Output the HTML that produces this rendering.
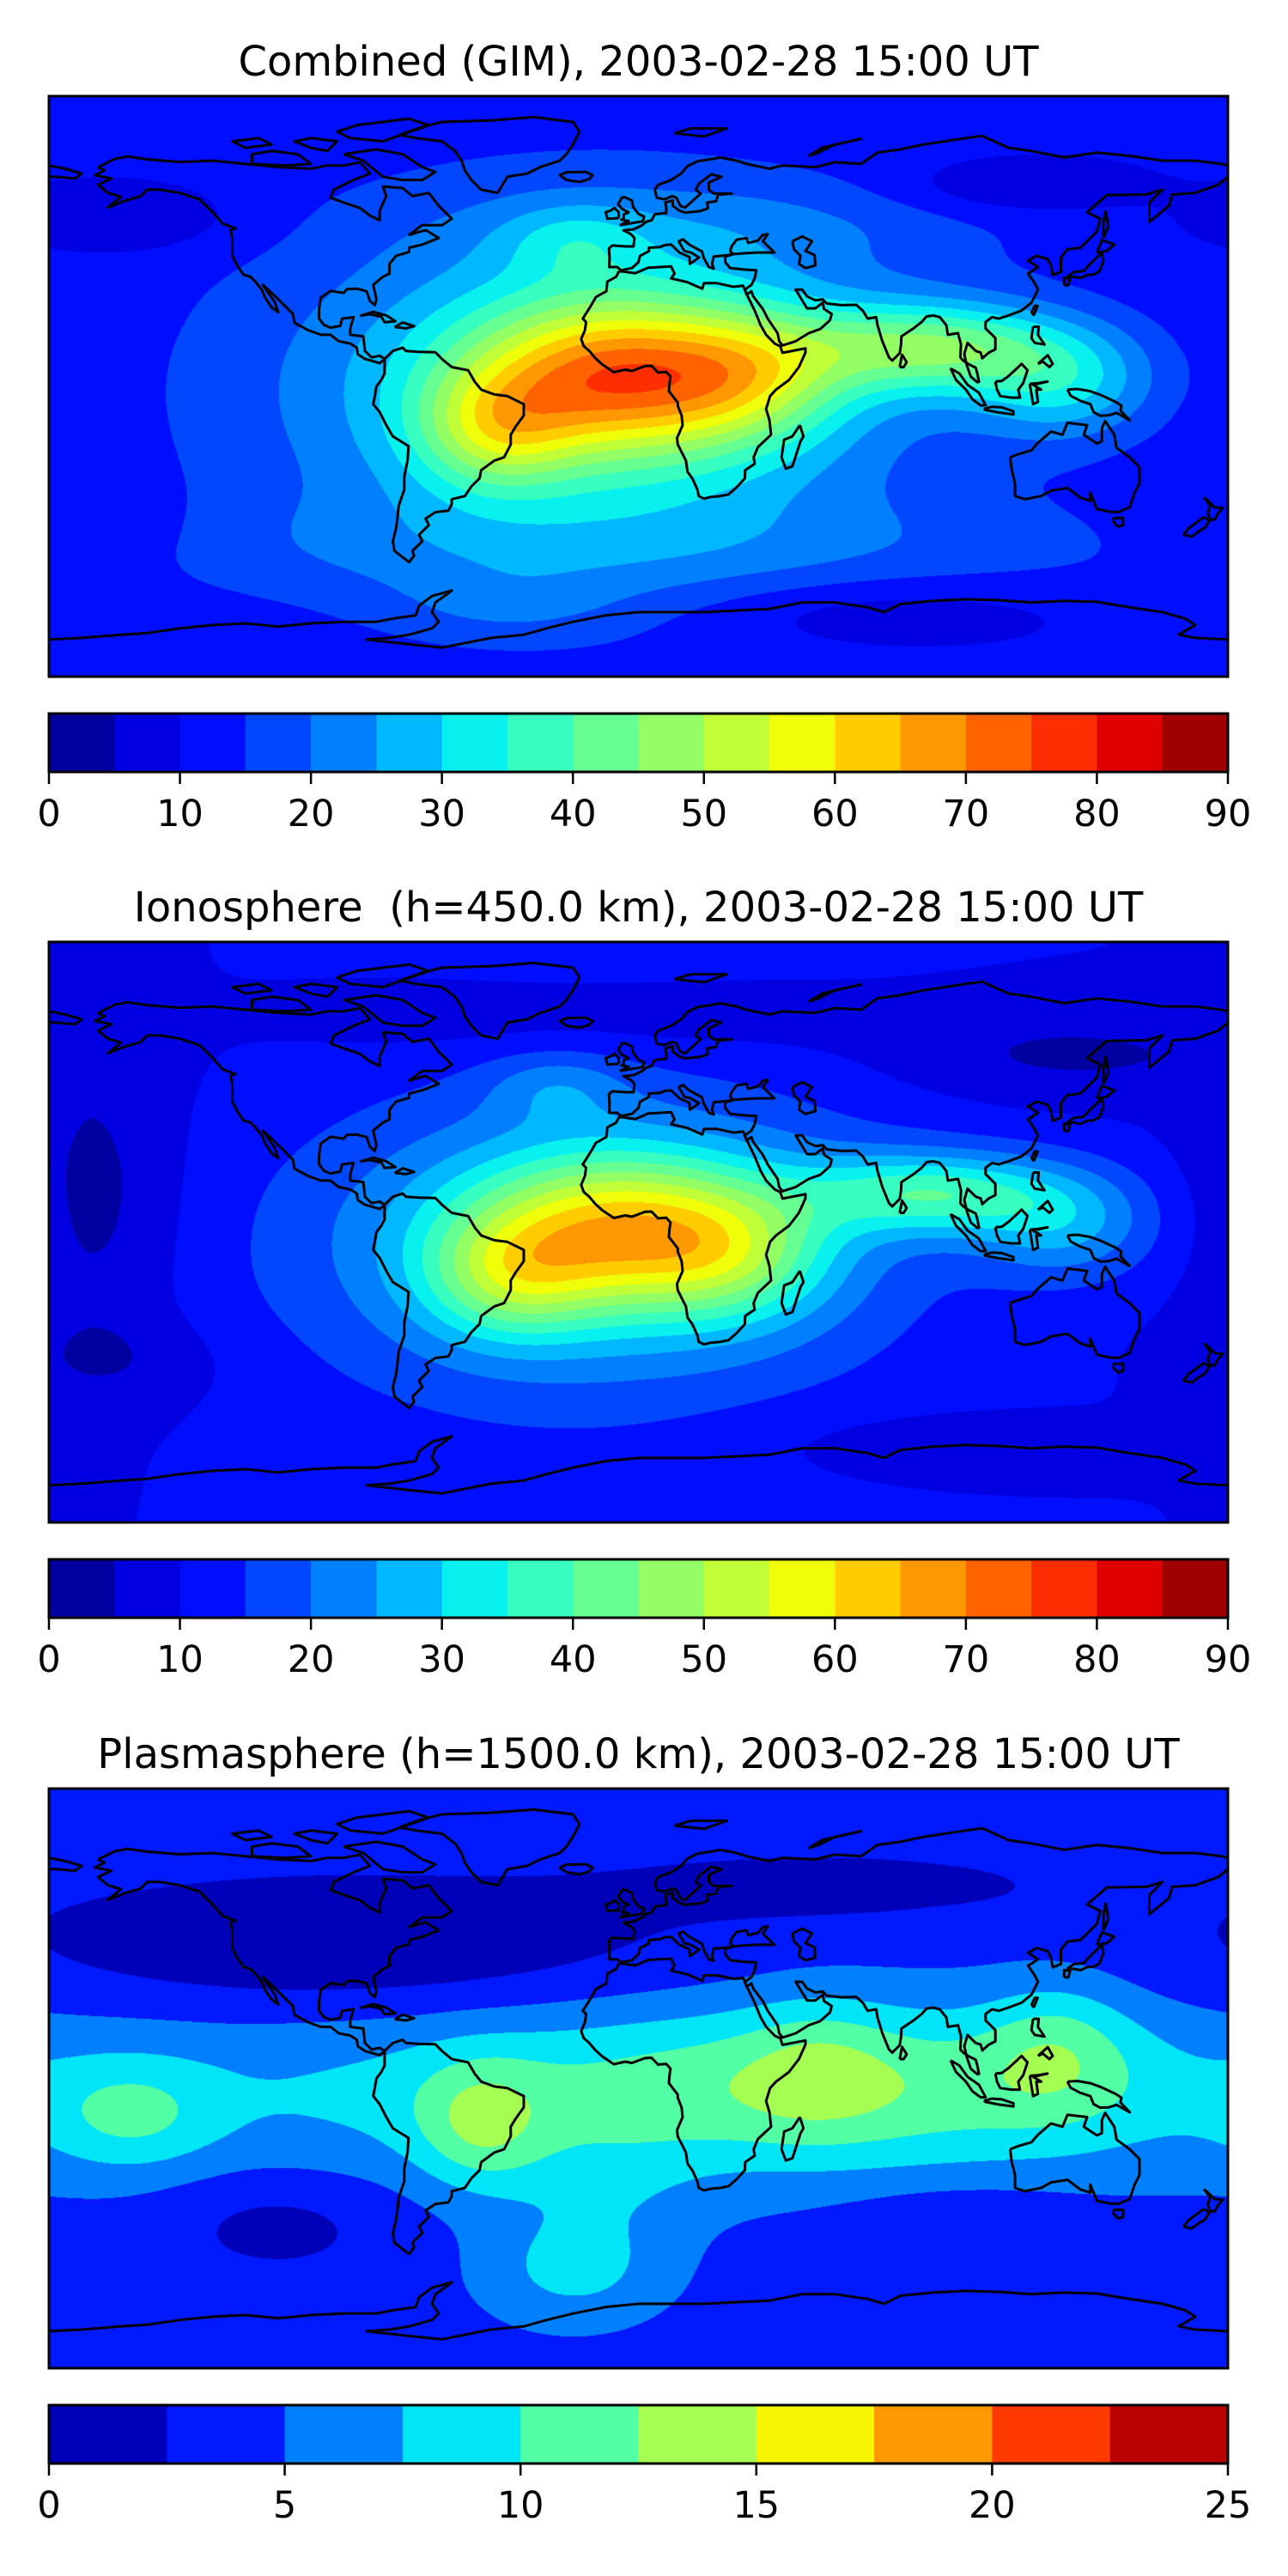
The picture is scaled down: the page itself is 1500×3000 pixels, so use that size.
<!DOCTYPE html>
<html><head><meta charset="utf-8">
<style>
html,body{margin:0;padding:0;background:#fff;}
body{width:1500px;height:3000px;position:relative;overflow:hidden;font-family:"DejaVu Sans","Liberation Sans",sans-serif;}
canvas{position:absolute;left:57px;}
svg{position:absolute;left:0;top:0;}
</style></head>
<body>
<canvas id="c1" width="1373" height="676" style="top:112px"></canvas>
<canvas id="c2" width="1373" height="676" style="top:1097px"></canvas>
<canvas id="c3" width="1373" height="675" style="top:2083px"></canvas>
<svg id="ov" width="1500" height="3000"></svg>
<script>
// ---------- data ----------
// Panel 1: Combined (GIM)
const p1Base = 11;
const p1Lon = [-6, -44, 35, 90, 130, -15, -20, -155, 115, 70, -170, 0, 30, -40];
const p1Lat = [3, -14, 3, 12, 0, -2, 45, 52, 62, -70, -45, -50, 50, -68];
const p1Amp = [41, 20, 16, 28, 16, 22, 8, -6, -7, -6, -4, 5, 5, 5];
const p1SLon = [32, 17, 20, 30, 20, 70, 15, 25, 25, 40, 25, 180, 60, 25];
const p1SLat = [17, 13, 14, 10, 12, 40, 8, 8, 6, 8, 10, 12, 10, 8];
// Panel 2: Ionosphere
const p2Base = 10;
const p2Lon = [-5, -40, 30, 90, 130, -15, -25, -165, 130, -160, 80, -60, 20];
const p2Lat = [0, -15, -8, 12, 2, -5, 45, 10, 55, -40, -65, 65, 65];
const p2Amp = [37, 17, 13, 24, 14, 18, 8, -7, -6, -4, -3, -3, -3];
const p2SLon = [34, 18, 20, 28, 20, 65, 15, 18, 40, 25, 40, 40, 40];
const p2SLat = [17, 13, 14, 9, 12, 35, 8, 35, 10, 10, 8, 8, 8];
// Panel 3: Plasmasphere
const p3Base = 4;
const p3Lon = [0, 60, -48, 55, 128, -155, -90, 60, -110, 100, -20, -10];
const p3Lat = [-5, -2, -15, 5, 10, -12, 42, 60, -45, -45, -60, -35];
const p3Amp = [4, 4.5, 5.2, 2.5, 4, 4, -4, -2.5, -2.5, -2, 4, 2];
const p3SLon = [180, 70, 14, 16, 16, 18, 70, 50, 25, 25, 20, 20];
const p3SLat = [20, 18, 14, 15, 15, 12, 15, 8, 12, 8, 12, 15];
// colour levels and ticks
const levels12 = [0,5,10,15,20,25,30,35,40,45,50,55,60,65,70,75,80,85,90];
const ticks12 = [0,10,20,30,40,50,60,70,80,90];
const levels3 = [0,2.5,5,7.5,10,12.5,15,17.5,20,22.5,25];
const ticks3 = [0,5,10,15,20,25];

// ---------- coastlines (lon,lat) ----------
const coasts = [
[[-165,68],[-160,70.5],[-156,71.3],[-150,70.4],[-140,69.6],[-130,70],[-120,69],[-110,68],[-100,67.5],[-95,68.5],[-90,68.5],[-85,69.5],[-82,66],[-87,64],[-93,61],[-94,58.5],[-90,57],[-85,55.3],[-82,53],[-79,51.5],[-79,54.5],[-77,59],[-78,62],[-72,61.5],[-69,59],[-64,60],[-61,56],[-57,52],[-60,50],[-66,50],[-70,47],[-65,48.5],[-61,46],[-66,44],[-70,43],[-70,41.7],[-74,40.5],[-76,38],[-76,35],[-78,34],[-81,31.5],[-80,27],[-80.5,25.2],[-82,26.5],[-83,29.5],[-86,30.3],[-89,30.2],[-90,29],[-94,29.6],[-97,27.5],[-97.5,24],[-97.5,21],[-96,19],[-94,18.2],[-91,18.8],[-90.5,21],[-87,21.5],[-88,18],[-88,16],[-84,15.5],[-83.5,11],[-81.5,9],[-79,9.5],[-77.5,8.5],[-79,7.2],[-81,7.8],[-83.5,8.5],[-85.7,10],[-86,12],[-88,13.3],[-91.5,14],[-94,16],[-97,16],[-101,17.5],[-105,19.7],[-105.5,22.5],[-108,25],[-112,29],[-114.7,31.5],[-113,29],[-111,26],[-110,23],[-112,24.5],[-114,27.5],[-115,30],[-117,32.5],[-118.5,34],[-120.7,34.7],[-122.5,37.5],[-124,40.5],[-124,46],[-124.6,48.5],[-123,49],[-127,50.5],[-130,54],[-134,58],[-137,59],[-140,60],[-146,61],[-150,61],[-152,59],[-157,57.5],[-162,55.5],[-158,58.8],[-162,60],[-165,62.5],[-161,64.5],[-166,65.5],[-163,67],[-165,68]],
[[-77.5,8.5],[-75,11],[-72,12],[-71,11],[-67,10.7],[-62,10.6],[-60,8.5],[-57,6],[-52,5],[-50,1.5],[-48,-1],[-44,-2.5],[-40,-3],[-35,-5.5],[-35,-9],[-37.5,-12.5],[-39,-15],[-39,-18],[-41,-22],[-44,-23],[-48,-26],[-48.5,-28.5],[-51,-31],[-53,-34],[-57,-35],[-57,-36.5],[-58,-38.5],[-62,-39],[-65,-41],[-64,-43],[-67,-46],[-66,-48],[-69,-51],[-68.5,-52.5],[-70,-54.5],[-72,-53],[-74.5,-51],[-75,-48],[-74,-44],[-73.5,-40],[-73.2,-37],[-71.5,-32],[-71.5,-28],[-70.5,-23],[-70.2,-18.5],[-75,-15.5],[-77,-12],[-79,-8],[-81,-5.5],[-80.5,-3],[-80,0],[-78.5,2],[-77.5,4],[-77.5,7],[-77.5,8.5]],
[[-73,78],[-66,80.5],[-60,82],[-45,82.5],[-32,83.5],[-20,82],[-18,79],[-20,75],[-22,72],[-24,70],[-30,68],[-34,66],[-40,65],[-43,60],[-48,61],[-51,64],[-53,67],[-54,70],[-56,73],[-60,76],[-68,77],[-73,78]],
[[-90,72],[-80,73.5],[-72,72],[-66,68],[-62,66.5],[-66,64],[-72,64],[-78,65],[-84,70],[-90,72]],
[[-118,69],[-108,68.5],[-100,69],[-104,72],[-112,73],[-118,72],[-118,69]],
[[-88,77],[-78,76],[-64,81],[-70,83],[-86,81],[-92,79],[-88,77]],
[[-100,74],[-95,73],[-92,76],[-100,77],[-105,76],[-100,74]],
[[-120,74],[-112,75],[-116,77],[-124,76],[-120,74]],
[[25,71],[30,70],[33,69],[40,67.5],[44,68.5],[54,68],[60,69.5],[68,69],[73,72.5],[80,73.5],[87,75],[100,77],[105,77.7],[113,74],[120,73],[130,71],[140,72.5],[150,71.5],[160,70],[170,70],[178,69],[180,68.5]],
[[-180,68.5],[-175,67.5],[-170,66],[-172,64.5],[-178,65],[-180,65]],
[[180,65],[177,62.5],[170,60],[163,59.5],[162,56],[156,51],[156,57],[160,61],[155,59.5],[143,59.3],[137,54],[141,52],[140,48],[135,43],[131,42.5],[129,40],[129,35.5],[126.5,34.5],[126,37.5],[125,39.5],[121.5,40.5],[119,39],[122,37],[119,35],[121,32],[122,30],[120,26],[117,23.5],[113,22],[110,21],[108,21.5],[106,20],[106,18],[109,15],[109,11.5],[107,10.5],[105,8.7],[104.5,10.5],[103,11],[100.5,13.5],[99.5,10],[100.3,6.5],[101.5,3],[103.5,1.3],[104,1.4],[103.5,4],[103,5.8],[101,6.8],[99.2,8],[98.3,9],[98.5,13],[97.6,16.5],[94.5,16],[94,19],[92,21.5],[90,22],[88,21.7],[86.5,20],[84,18],[80.3,15.5],[80.2,13],[79.8,10.3],[77.5,8],[76.5,9],[74.5,14],[73,19],[72.6,21.5],[70,21],[68.5,23.5],[66.5,25.3],[62,25.2],[57.5,25.7],[56.3,27],[54,26.7],[51.5,27.9],[50,30],[48,30],[50.3,26.2],[51.5,24.2],[54,24.2],[56.3,26],[56.7,24],[59,22.5],[58.5,20.5],[55.5,17.8],[52,16.5],[48,14],[44,12.7],[43,14],[42.5,16.5],[39.5,21],[38,24],[35,28],[34.5,29.5],[33,28.5],[32.5,30],[34.5,31.5],[35.5,33.5],[36,36],[32.5,36.2],[28,36.7],[26.5,38.5],[26.5,40.2],[29,41],[28,42],[28.5,43.5],[30,45.5],[33,46],[33.5,44.5],[36.5,45.2],[38,47],[39.5,47.2],[38,45],[41.5,41.5],[36,41.5],[31,41.2],[29,41],[26.5,40.6],[23,40.3],[22.5,38],[23,36.5],[21.5,37],[20,39.7],[19.4,41.8],[15.5,44],[13.6,45.6],[12.3,45],[14,42],[16,41.5],[18.5,40],[16.5,38.5],[15.7,38],[15.6,40.1],[12.5,41.5],[10,44],[8,43.8],[6.5,43.2],[3.2,43],[3.2,41.9],[0.5,40.5],[0,38.5],[-2,36.7],[-5.3,36],[-6.5,37],[-8.9,37],[-8.8,39.8],[-9,42.8],[-8,43.7],[-3.8,43.4],[-1.5,43.4],[-1.2,46],[-2.3,47.2],[-4.6,48.4],[-1.5,48.7],[1,49.9],[2.5,51.1],[4,51.5],[5,53.4],[8.5,53.8],[8.5,55.5],[8.2,57],[10.5,57.7],[10.5,56],[12.5,54.5],[14.2,53.9],[19,54.4],[21.2,55.2],[21,57],[23.7,57.4],[24.3,59.4],[28.5,59.8],[23,59.8],[21.5,61],[21.5,63.2],[25.3,65],[22.3,65.8],[18.5,62.9],[17.5,61],[19,59.8],[16.5,57.5],[14.2,55.4],[12.8,56],[11.6,58.5],[10.3,59],[8,58],[5.6,58.5],[5,61],[6,62.5],[10,64],[13,66],[15,68.3],[18,69.8],[23,70.6],[25,71]],
[[47,45],[50,46.5],[53,45],[51,42],[53.8,40.7],[54,37.5],[51,36.7],[49,38],[49.5,40.5],[47.5,42.5],[47,45]],
[[-5.9,35.8],[-1,35.1],[3,36.8],[10,37.2],[11,35],[10,33.5],[15,32.3],[19.5,30.3],[20,32],[24,32],[29,30.9],[32,31.2],[32.5,29.9],[33.6,27.5],[35.5,23.5],[37.3,19],[39,16],[41.7,13.2],[43.3,12.5],[44,10.4],[51,11.8],[51,10.5],[49,6],[46,2],[42,-1],[40.2,-3],[39,-7],[40,-10.5],[40.5,-15],[36.5,-18.8],[35.2,-22],[35.5,-24],[32.6,-26],[32.5,-28.5],[30,-31.3],[27.5,-33.5],[25,-34],[22,-34.3],[20,-34.8],[18.4,-34],[18,-32],[16.5,-28.6],[15,-26.5],[14.5,-23],[12,-18],[11.8,-16],[13.5,-12],[13.2,-9],[12,-6],[12,-5],[9.3,-1.5],[9.5,1],[9.8,3],[8.5,4.5],[6,4.3],[4,6.4],[2,6.3],[-2,4.8],[-4,5.2],[-7.5,4.4],[-11,6.8],[-13.2,8.8],[-15,11],[-16.7,12.5],[-17.5,14.7],[-16.3,17.5],[-16,20],[-17,21],[-14.5,25],[-13,27.7],[-9.8,29.5],[-9.5,32.5],[-6.8,34],[-5.9,35.8]],
[[49.3,-12],[50.4,-15.5],[49.5,-17],[47,-24.8],[45,-25.5],[43.7,-22],[44.5,-16.5],[47,-15.5],[49.3,-12]],
[[113.5,-22],[114,-26],[115,-30],[115,-34],[118,-35],[123,-34],[126,-32.3],[131,-31.5],[135,-34.5],[138,-35.5],[138,-33],[140,-38],[143.5,-38.8],[146.5,-39],[150,-37.5],[151.5,-33],[153,-30],[153,-25],[150,-22],[146,-19],[145.3,-15],[142.5,-10.7],[141.5,-13],[141.5,-17],[140,-17.7],[136,-15],[137,-12],[131,-11.3],[129.5,-15],[126,-14],[122,-17.5],[120,-19.8],[116,-21],[113.5,-22]],
[[145,-40.8],[148,-40.8],[148,-43],[146.5,-43.5],[145,-42],[145,-40.8]],
[[172.7,-34.4],[174.5,-36],[175.9,-37.5],[178.5,-37.7],[177,-39.3],[176,-41.3],[174.7,-41.3],[173.8,-39.3],[174.6,-37],[172.7,-34.4]],
[[172.7,-40.5],[174.3,-41.7],[173,-43.8],[171,-45],[169,-46.6],[166.5,-46],[168,-44],[172.7,-40.5]],
[[95.3,5.6],[98,4],[100.5,0.5],[104,-2],[106,-5.8],[104.5,-5.9],[102,-4],[100,-1],[97,2],[95.3,5.6]],
[[105.5,-6.9],[108,-6.3],[111,-6.5],[114.5,-7.7],[114.5,-8.7],[110,-8.1],[106,-7.3],[105.5,-6.9]],
[[109,1.5],[109.5,-1],[110.5,-3],[114,-3.5],[116.5,-3.5],[116,-1],[117.5,1],[118.8,5],[117,7],[116,6],[113,3.2],[111,1.7],[109,1.5]],
[[119.5,0.8],[120.5,-5.5],[122,-4.8],[121.5,-1],[123,-1],[120.5,0.5],[124.9,1.5],[122,1],[119.5,0.8]],
[[131,-1],[134,-0.8],[138,-1.5],[141,-2.6],[145.7,-4.8],[147.5,-6],[147.2,-7.5],[150,-10.5],[146,-8.2],[143.5,-9],[141,-9.1],[139,-8],[138,-5.5],[135,-4.5],[132,-2.9],[131,-1]],
[[120.5,18.5],[122.2,18.5],[122,16],[124,13],[121,13.5],[120,15],[120.5,18.5]],
[[122,7],[125,9.7],[126.5,7],[125.5,6],[123.5,7.7],[122,7]],
[[120.7,22],[121.9,25],[121,25],[120.1,23],[120.7,22]],
[[130.9,34],[133,35.5],[136,35.8],[137,37],[140,40],[141.5,41.4],[142,39],[140.8,35.7],[139,34.7],[137,34.6],[135,33.6],[133,34],[130.9,34]],
[[140,41.5],[141.5,45.4],[145.3,44],[143,42],[140,41.5]],
[[130,31.4],[131.3,31.4],[131.8,33.5],[130,33.6],[130,31.4]],
[[79.8,6],[80.5,9.8],[81.9,7.5],[81,6],[79.8,6]],
[[142,46],[143.5,49.5],[142.7,54.3],[142,51],[142,46]],
[[-5.7,50],[1.4,51.2],[1.7,52.7],[0,53.5],[-1.6,55.6],[-2,57.6],[-4,58.6],[-5,58.6],[-6.2,56.5],[-5,55],[-3,54],[-4.5,53.3],[-4.5,52],[-5.2,51.7],[-3,51.3],[-5.7,50]],
[[-6,52.2],[-6,54],[-7.3,55.3],[-8.5,54.5],[-10,54],[-9.5,52],[-6,52.2]],
[[-22,64],[-24,65.5],[-22,66.4],[-16,66.5],[-14,65.5],[-15,64.3],[-18,63.4],[-22,64]],
[[-85,21.9],[-81,23.1],[-77,22],[-74.2,20.2],[-77.5,19.9],[-78.5,21.6],[-82,22.4],[-85,21.9]],
[[-74.4,18.4],[-72,19.8],[-68.5,18.7],[-71,18],[-74.4,18.4]],
[[52,71.5],[56,74],[68,76.8],[60,75],[55,72.5],[52,71.5]],
[[11,78.5],[16,80],[27,80],[20,77.5],[11,78.5]],
[[-180,-78.5],[-170,-78],[-158,-77],[-150,-76.5],[-140,-75],[-130,-74],[-120,-73.5],[-110,-74.5],[-100,-73.5],[-90,-73],[-80,-73],[-75,-72],[-68,-71],[-67,-68],[-63,-65],[-57,-63.3],[-58.5,-64.5],[-62,-67],[-63,-70],[-61,-73],[-63,-75],[-70,-77],[-76,-78],[-83,-78.5],[-70,-80],[-60,-81],[-45,-78],[-35,-77],[-28,-75],[-20,-73],[-10,-71],[0,-70],[10,-70],[20,-70],[30,-69.5],[40,-69],[50,-67],[60,-67],[70,-68.5],[75,-70],[80,-67.5],[90,-66.5],[100,-66],[110,-66.3],[120,-67],[130,-66.5],[140,-66.8],[150,-68.5],[160,-70],[167,-72],[170,-74],[165,-77],[170,-78],[180,-78.5]]
];

// ---------- helpers ----------
function jet(x){
  const cl=v=>Math.max(0,Math.min(1,v));
  let r,g,b;
  r = x<0.35?0: x<0.66?(x-0.35)/0.31 : x<0.89?1 : 1-(x-0.89)/0.11*0.5;
  g = x<0.125?0: x<0.375?(x-0.125)/0.25 : x<0.64?1 : x<0.91?1-(x-0.64)/0.27 : 0;
  b = x<0.11?0.5+x/0.11*0.5 : x<0.34?1 : x<0.65?1-(x-0.34)/0.31 : 0;
  return [Math.round(cl(r)*255),Math.round(cl(g)*255),Math.round(cl(b)*255)];
}
function levelColors(levels){
  const n=levels.length-1, out=[];
  for(let i=0;i<n;i++) out.push(jet((i+0.5)/n));
  return out;
}
function drawField(id, base, lons, lats, amps, sLon, sLat, levels){
  const cv=document.getElementById(id), ctx=cv.getContext('2d');
  const W=cv.width, H=cv.height;
  const img=ctx.createImageData(W,H), d=img.data;
  const cols=levelColors(levels);
  const vmin=levels[0], step=levels[1]-levels[0], n=levels.length-1;
  const nb=lons.length;
  const fx=[], fy=[];
  for(let k=0;k<nb;k++){
    const ax=new Float32Array(W), ay=new Float32Array(H);
    for(let x=0;x<W;x++){
      const lon=-180+(x+0.5)/W*360;
      let dl=((lon-lons[k]+540)%360)-180;
      ax[x]=Math.exp(-0.5*(dl/sLon[k])**2);
    }
    for(let y=0;y<H;y++){
      const lat=90-(y+0.5)/H*180;
      ay[y]=amps[k]*Math.exp(-0.5*((lat-lats[k])/sLat[k])**2);
    }
    fx.push(ax); fy.push(ay);
  }
  for(let y=0;y<H;y++){
    for(let x=0;x<W;x++){
      let v=base;
      for(let k=0;k<nb;k++) v+=fx[k][x]*fy[k][y];
      let i=Math.floor((v-vmin)/step); if(i<0)i=0; if(i>n-1)i=n-1;
      const c=cols[i], p=(y*W+x)*4;
      d[p]=c[0];d[p+1]=c[1];d[p+2]=c[2];d[p+3]=255;
    }
  }
  ctx.putImageData(img,0,0);
}
drawField('c1',p1Base,p1Lon,p1Lat,p1Amp,p1SLon,p1SLat,levels12);
drawField('c2',p2Base,p2Lon,p2Lat,p2Amp,p2SLon,p2SLat,levels12);
drawField('c3',p3Base,p3Lon,p3Lat,p3Amp,p3SLon,p3SLat,levels3);

// ---------- overlay ----------
const NS='http://www.w3.org/2000/svg';
const ov=document.getElementById('ov');
function mk(tag,attrs,parent){const e=document.createElementNS(NS,tag);for(const k in attrs)e.setAttribute(k,attrs[k]);(parent||ov).appendChild(e);return e;}
const L=57, R=1430, MW=R-L;
const panels=[
  {title:'Combined (GIM), 2003-02-28 15:00 UT', top:112, h:676, ty:88, cbTop:831, cbH:68, lab:962, levels:levels12, ticks:ticks12, key:'combined'},
  {title:'Ionosphere  (h=450.0 km), 2003-02-28 15:00 UT', top:1097, h:676, ty:1073, cbTop:1816, cbH:68, lab:1947, levels:levels12, ticks:ticks12, key:'ionosphere'},
  {title:'Plasmasphere (h=1500.0 km), 2003-02-28 15:00 UT', top:2083, h:675, ty:2059, cbTop:2801, cbH:68, lab:2932, levels:levels3, ticks:ticks3, key:'plasmasphere'}
];
panels.forEach(P=>{
  const t=mk('text',{x:(L+R)/2,y:P.ty,'text-anchor':'middle','font-size':'48','font-family':'DejaVu Sans, Liberation Sans, sans-serif',fill:'#000','xml:space':'preserve'});
  
  
  t.style.whiteSpace='pre';
  t.textContent=P.title;
  const g=mk('g',{});
  
  
  const px=lon=>L+(lon+180)/360*MW, py=lat=>P.top+(90-lat)/180*P.h;
  coasts.forEach(c=>{
    const pts=c.map(p=>px(p[0]).toFixed(1)+','+py(p[1]).toFixed(1)).join(' ');
    const pl=mk('polyline',{points:pts,fill:'none',stroke:'#000','stroke-width':3,'stroke-linejoin':'round'},g);
    
    
  });
  const fr=mk('rect',{x:L,y:P.top,width:MW,height:P.h,fill:'none',stroke:'#000','stroke-width':3});
  
  
  const cb=mk('g',{});
  
  
  const cols=levelColors(P.levels), n=P.levels.length-1, vmax=P.levels[n], vmin=P.levels[0];
  const cx=v=>L+(v-vmin)/(vmax-vmin)*MW;
  for(let i=0;i<n;i++){
    const c=cols[i];
    const r=mk('rect',{x:cx(P.levels[i]),y:P.cbTop,width:cx(P.levels[i+1])-cx(P.levels[i])+0.5,height:P.cbH,fill:`rgb(${c[0]},${c[1]},${c[2]})`},cb);
    
    
  }
  mk('rect',{x:L,y:P.cbTop,width:MW,height:P.cbH,fill:'none',stroke:'#000','stroke-width':3},cb);
  P.ticks.forEach(tv=>{
    const x=cx(tv);
    mk('line',{x1:x,x2:x,y1:P.cbTop+P.cbH,y2:P.cbTop+P.cbH+14,stroke:'#000','stroke-width':2.5},cb);
    const tl=mk('text',{x:x,y:P.lab,'text-anchor':'middle','font-size':'43','font-family':'DejaVu Sans, Liberation Sans, sans-serif',fill:'#000'},cb);
    
    
    tl.textContent=String(tv);
  });
});
</script>
</body></html>
